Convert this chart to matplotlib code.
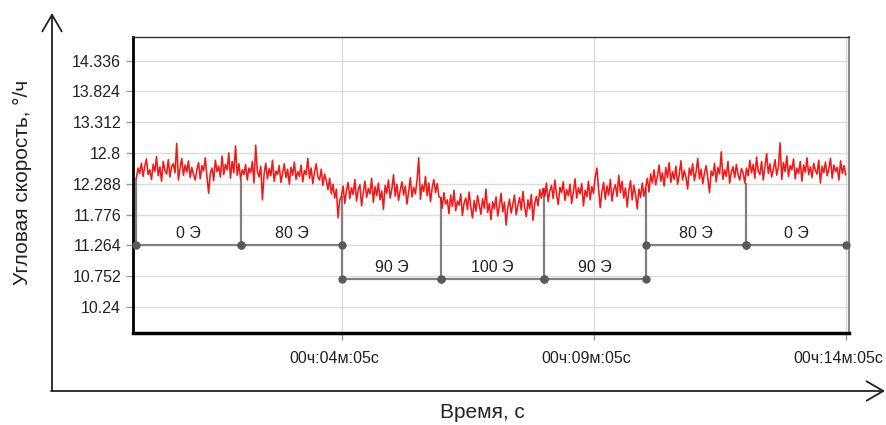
#!/usr/bin/env python3
"""Angular rate record with magnetic field steps marked under the trace."""

import numpy as np
import matplotlib.pyplot as plt
from matplotlib.transforms import ScaledTranslation

plt.rcParams["font.family"] = ["Liberation Sans", "DejaVu Sans"]

SAMPLE_S = 2.0

# angular rate, deg/h, one list per field step (sampled every 2 s)
rate_0e_a = [
    12.38, 12.55, 12.46, 12.63, 12.41, 12.58, 12.70, 12.44, 12.52, 12.36,
    12.61, 12.49, 12.74, 12.42, 12.57, 12.33, 12.66, 12.51, 12.45, 12.69,
    12.40, 12.58, 12.62, 12.47, 12.96, 12.35, 12.55, 12.71, 12.43, 12.60,
    12.48, 12.67, 12.39, 12.56, 12.44, 12.35, 12.52, 12.64, 12.37, 12.59,
    12.50, 12.72, 12.41, 12.13, 12.46, 12.55, 12.34, 12.68, 12.49, 12.58,
    12.40, 12.75, 12.44, 12.61, 12.52, 12.80, 12.38, 12.66, 12.47, 12.92,
    12.43, 12.62,
]
rate_80e_a = [
    12.37, 12.52, 12.44, 12.61, 12.35, 12.55, 12.47, 12.66, 12.30, 12.93,
    12.49, 12.40, 12.58, 12.02, 12.45, 12.63, 12.37, 12.54, 12.42, 12.68,
    12.33, 12.50, 12.44, 12.59, 12.31, 12.47, 12.62, 12.39, 12.53, 12.28,
    12.56, 12.43, 12.65, 12.36, 12.49, 12.41, 12.60, 12.32, 12.51, 12.44,
    12.71, 12.38, 12.55, 12.29, 12.48, 12.62, 12.40, 12.35, 12.53, 12.26,
    12.45, 12.34, 12.19, 12.38, 12.12, 12.28, 12.05, 12.20, 11.72, 12.02,
]
rate_90e_a = [
    12.08, 12.25, 11.96, 12.18, 12.31, 12.04, 12.22, 12.11, 12.36, 12.00,
    12.19, 12.27, 11.92, 12.14, 12.33, 12.06, 12.21, 12.12, 12.38, 11.98,
    12.24, 12.09, 12.30, 12.02, 12.17, 11.86, 12.26, 12.13, 12.35, 12.05,
    12.20, 12.44, 12.08, 12.28, 12.01, 12.18, 12.32, 12.10, 12.25, 11.95,
    12.15, 12.39, 12.07, 12.23, 12.12, 12.34, 12.72, 12.03, 12.27, 12.16,
    12.41, 12.09, 12.30, 11.99, 12.22, 12.36, 12.14, 12.29, 12.07,
]
rate_100e = [
    12.06, 11.88, 12.14, 11.95, 12.02, 11.79, 12.10, 11.91, 12.18, 11.84,
    12.00, 11.93, 12.12, 11.76, 11.97, 12.05, 11.86, 12.15, 11.90, 11.72,
    12.01, 11.83, 12.09, 11.94, 11.78, 12.04, 11.88, 12.20, 11.81, 11.96,
    11.69, 11.99, 11.87, 12.07, 11.75, 11.92, 12.13, 11.82, 11.98, 11.60,
    11.89, 12.03, 11.80, 11.95, 12.10, 11.77, 11.93, 12.06, 11.85, 12.16,
    11.90, 11.74, 12.02, 11.87, 12.11, 11.68, 11.96, 12.08, 11.92, 12.19,
    12.05,
]
rate_90e_b = [
    12.21, 12.08, 12.30, 11.99, 12.17, 12.26, 12.04, 12.35, 12.11, 11.94,
    12.23, 12.14, 12.32, 12.01, 12.19, 12.09, 12.28, 11.96, 12.15, 12.37,
    12.05, 12.22, 12.12, 12.29, 11.92, 12.18, 12.07, 12.33, 12.02, 12.24,
    12.13, 12.40, 12.55, 12.20, 11.89, 12.16, 12.31, 12.03, 12.25, 12.10,
    12.36, 12.00, 12.19, 12.27, 12.08, 12.43, 12.14, 12.33, 12.05, 12.22,
    11.90, 12.17, 12.34, 12.02, 12.26, 12.11, 11.87, 12.20, 12.06, 12.30,
    12.08,
]
rate_80e_b = [
    12.22, 12.38, 12.15, 12.45, 12.30, 12.52, 12.27, 12.41, 12.60, 12.33,
    12.47, 12.25, 12.56, 12.39, 12.64, 12.31, 12.49, 12.36, 12.58, 12.28,
    12.44, 12.67, 12.35, 12.51, 12.40, 12.20, 12.55, 12.43, 12.62, 12.34,
    12.48, 12.71, 12.37, 12.53, 12.29, 12.46, 12.59, 12.38, 12.14, 12.50,
    12.42, 12.63, 12.32, 12.56, 12.45, 12.82, 12.36, 12.52, 12.41, 12.66,
    12.30, 12.48, 12.57, 12.39, 12.61, 12.44, 12.35, 12.54, 12.47, 12.30,
]
rate_0e_b = [
    12.55, 12.42, 12.68, 12.47, 12.61, 12.38, 12.73, 12.50, 12.44, 12.66,
    12.35, 12.58, 12.79, 12.46, 12.62, 12.40, 12.53, 12.69, 12.43, 12.57,
    12.97, 12.36, 12.64, 12.49, 12.75, 12.41, 12.59, 12.52, 12.70, 12.37,
    12.55, 12.46, 12.66, 12.33, 12.60, 12.48, 12.72, 12.44, 12.57, 12.39,
    12.63, 12.51, 12.45, 12.68, 12.30, 12.58, 12.47, 12.65, 12.42, 12.54,
    12.71, 12.38, 12.60, 12.49, 12.56, 12.35, 12.67, 12.46, 12.59, 12.44,
]

# field steps: boundaries (s), label, row of the bracket (0 upper, 1 lower)
step_edges = [0, 124, 245, 363, 485, 606, 725, 845]
step_labels = ["0 Э", "80 Э", "90 Э", "100 Э", "90 Э", "80 Э", "0 Э"]
step_rows = [0, 0, 1, 1, 1, 0, 0]
row_levels = [11.264, 10.70]

y_ticks = [10.24, 10.752, 11.264, 11.776, 12.288, 12.8, 13.312, 13.824, 14.336]
y_tick_labels = ["10.24", "10.752", "11.264", "11.776", "12.288", "12.8",
                 "13.312", "13.824", "14.336"]
x_ticks = [245, 545, 845]

W, H = 886, 425


def hms(sec: float) -> str:
    sec = int(sec)
    return f"{sec // 3600:02d}ч:{sec % 3600 // 60:02d}м:{sec % 60:02d}с"


def rate_at(t: np.ndarray, rate: np.ndarray, when: float) -> float:
    return float(rate[np.argmin(np.abs(t - when))])


def main() -> None:
    rate = np.concatenate([rate_0e_a, rate_80e_a, rate_90e_a, rate_100e,
                           rate_90e_b, rate_80e_b, rate_0e_b])
    t = np.arange(len(rate)) * SAMPLE_S

    fig = plt.figure(figsize=(W / 100, H / 100), dpi=100)

    # outer arrow frame behind the plot
    bg = fig.add_axes([0, 0, 1, 1])
    bg.set_xlim(0, W)
    bg.set_ylim(H, 0)
    bg.axis("off")
    arrow = dict(arrowstyle="->,head_length=0.6,head_width=0.35",
                 color="#222222", lw=1.3, mutation_scale=20, shrinkA=0, shrinkB=0)
    bg.annotate("", xy=(52, 13), xytext=(52, 391), arrowprops=arrow)
    bg.annotate("", xy=(885, 391), xytext=(51, 391), arrowprops=arrow)

    ax = fig.add_axes([133 / W, 1 - 333 / H, (849 - 133) / W, (333 - 37) / H])
    ax.set_xlim(-4, 848)
    ax.set_ylim(9.805, 14.73)

    ax.set_yticks(y_ticks)
    ax.set_yticklabels(y_tick_labels)
    ax.set_xticks(x_ticks)
    ax.set_xticklabels([hms(v) for v in x_ticks])
    ax.tick_params(axis="both", direction="out", length=5, width=1,
                   color="#999999", labelsize=11.5, labelcolor="#222222")
    ax.tick_params(axis="x", pad=8)
    # time labels sit a little left of their ticks
    shift = ScaledTranslation(-8 / 100, 0, fig.dpi_scale_trans)
    for lbl in ax.get_xticklabels():
        lbl.set_transform(lbl.get_transform() + shift)
    ax.grid(True, color="#dcdcdc", lw=1)
    ax.set_axisbelow(True)

    for side, lw, col in [("left", 2.0, "black"), ("bottom", 2.5, "black"),
                          ("top", 1.0, "#333333"), ("right", 1.5, "#8c8c8c")]:
        ax.spines[side].set_linewidth(lw)
        ax.spines[side].set_color(col)

    ax.plot(t, rate, color="#f20000", lw=1.15, alpha=0.9, zorder=3)

    # step brackets: level lines, drop lines from the trace, end dots, labels
    line_kw = dict(color="#808080", lw=1.6, zorder=2, solid_capstyle="butt")
    for i, label in enumerate(step_labels):
        t0, t1 = step_edges[i], step_edges[i + 1]
        level = row_levels[step_rows[i]]
        ax.plot([t0, t1], [level, level], **line_kw)
        ax.plot([t0, t1], [level, level], ls="none", marker="o", ms=5,
                color="#5a5a5a", zorder=4, clip_on=False)
        ax.text((t0 + t1) / 2, level + 0.2, label, ha="center", va="center",
                fontsize=11.5, color="#222222", zorder=5)
    for edge in step_edges[:-1]:
        levels = [row_levels[step_rows[i]] for i in range(len(step_labels))
                  if edge in (step_edges[i], step_edges[i + 1])]
        ax.plot([edge, edge], [min(levels), rate_at(t, rate, edge)], **line_kw)

    fig.text(22 / W, 1 - 182 / H, "Угловая скорость, °/ч", rotation=90,
             ha="center", va="center", fontsize=15, color="#222222")
    fig.text(482 / W, 1 - 412 / H, "Время, с", ha="center", va="center",
             fontsize=15, color="#222222")

    fig.savefig("out.png", dpi=100)
    plt.close(fig)


if __name__ == "__main__":
    main()
